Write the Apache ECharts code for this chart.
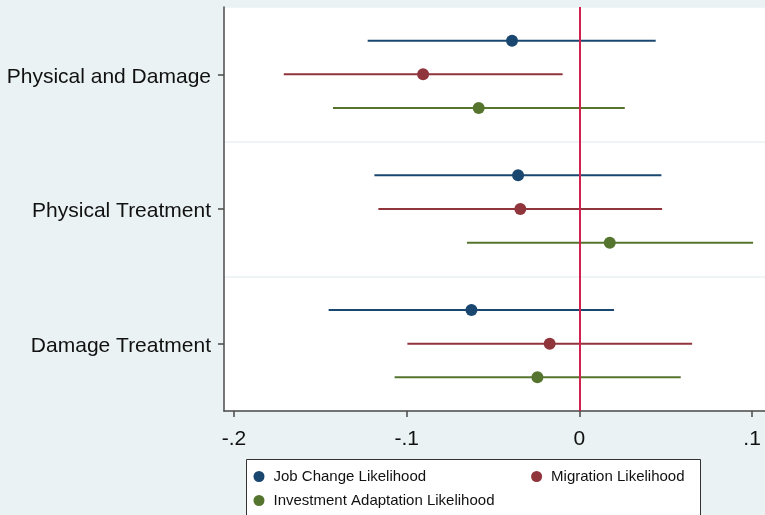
<!DOCTYPE html>
<html>
<head>
<meta charset="utf-8">
<script src="https://cdn.jsdelivr.net/npm/echarts@6/dist/echarts.min.js"></script>
<style>html,body{margin:0;padding:0;background:#eaf2f3;}#c{width:765px;height:515px;}</style>
</head>
<body>
<div id="c"></div>
<script>
var categories = ['Physical and Damage', 'Physical Treatment', 'Damage Treatment'];
var seriesNames = ['Job Change Likelihood', 'Migration Likelihood', 'Investment Adaptation Likelihood'];
var jobEst = [-0.0390, -0.0355, -0.0625];
var jobLo  = [-0.1226, -0.1187, -0.1452];
var jobHi  = [ 0.0442,  0.0475,  0.0201];
var migEst = [-0.0905, -0.0342, -0.0172];
var migLo  = [-0.1712, -0.1164, -0.0996];
var migHi  = [-0.0097,  0.0479,  0.0653];
var invEst = [-0.0583,  0.0176, -0.0243];
var invLo  = [-0.1427, -0.0651, -0.1070];
var invHi  = [ 0.0263,  0.1006,  0.0587];
var xTicks = [-0.2, -0.1, 0, 0.1];
var xTickLabels = ['-.2', '-.1', '0', '.1'];

var colors = ['#1a476f', '#90353b', '#55752f'];
var offsets = [0.25, 0.5, 0.75];
var ests = [jobEst, migEst, invEst];
var los = [jobLo, migLo, invLo];
var his = [jobHi, migHi, invHi];

var series = [];
for (var s = 0; s < 3; s++) {
  var ci = [], pts = [];
  for (var i = 0; i < categories.length; i++) {
    var yy = i + offsets[s];
    ci.push([los[s][i], his[s][i], yy]);
    pts.push([ests[s][i], yy]);
  }
  (function (col) {
    series.push({
      type: 'custom', name: 'ci' + s, xAxisIndex: 0, yAxisIndex: 1, z: 2,
      encode: {x: [0, 1], y: 2},
      renderItem: function (params, api) {
        var p1 = api.coord([api.value(0), api.value(2)]);
        var p2 = api.coord([api.value(1), api.value(2)]);
        return {type: 'line', shape: {x1: p1[0], y1: p1[1], x2: p2[0], y2: p2[1]},
                style: {stroke: col, lineWidth: 2}};
      },
      data: ci, silent: true
    });
  })(colors[s]);
  series.push({
    type: 'scatter', name: seriesNames[s], xAxisIndex: 0, yAxisIndex: 1, z: 4,
    symbol: 'circle', symbolSize: 12, itemStyle: {color: colors[s], opacity: 1},
    data: pts, silent: true
  });
}
series[1].markLine = {
  silent: true, symbol: ['none', 'none'], z: 3,
  label: {show: false},
  lineStyle: {color: '#d0214f', width: 2, type: 'solid'},
  data: [{xAxis: 0}]
};

var chart = echarts.init(document.getElementById('c'), null, {renderer: 'canvas'});
chart.setOption({
  backgroundColor: '#eaf2f3',
  animation: false,
  textStyle: {fontFamily: 'Liberation Sans, Arial, sans-serif'},
  grid: {left: 224, right: 0, top: 7, bottom: 104, show: true, backgroundColor: '#ffffff', borderWidth: 0, containLabel: false},
  xAxis: {
    type: 'value', min: -0.2058, max: 0.1075, position: 'bottom',
    axisLine: {show: true, onZero: false, lineStyle: {color: '#4a4a4a', width: 1.5}},
    axisTick: {show: true, length: 6, customValues: xTicks, lineStyle: {color: '#4a4a4a', width: 1.5}},
    axisLabel: {show: true, customValues: xTicks, margin: 18, color: '#111111', fontSize: 21,
      formatter: function (v) { var k = -1; for (var j = 0; j < xTicks.length; j++) if (Math.abs(xTicks[j]-v) < 1e-9) k = j; return k >= 0 ? xTickLabels[k] : ''; }},
    splitLine: {show: false}
  },
  yAxis: [{
    type: 'category', data: categories, inverse: true, boundaryGap: true, position: 'left',
    axisLine: {show: true, onZero: false, lineStyle: {color: '#4a4a4a', width: 1.5}},
    axisTick: {show: true, alignWithLabel: true, length: 6, lineStyle: {color: '#4a4a4a', width: 1.5}},
    axisLabel: {color: '#111111', fontSize: 21, margin: 13,
      formatter: function (v) { return '{a|' + v + '}'; },
      rich: {a: {fontSize: 21, color: '#111111', padding: [5, 0, 0, 0]}}},
    splitLine: {show: false}
  }, {
    type: 'value', min: 0, max: 3, interval: 1, inverse: true, position: 'left',
    axisLine: {show: false, onZero: false}, axisTick: {show: false}, axisLabel: {show: false},
    splitLine: {show: true, lineStyle: {color: '#eaf2f3', width: 1.5}}
  }],
  legend: [{
    data: [seriesNames[0], seriesNames[1]], left: 253.5, top: 469, orient: 'horizontal',
    itemWidth: 11, itemHeight: 11, itemGap: 105, icon: 'circle', padding: 0,
    textStyle: {fontSize: 15, color: '#111111', padding: [0, 0, 0, 4]},
    selectedMode: false
  }, {
    data: [seriesNames[2]], left: 253.5, top: 493, orient: 'horizontal',
    itemWidth: 11, itemHeight: 11, icon: 'circle', padding: 0,
    textStyle: {fontSize: 15, color: '#111111', padding: [0, 0, 0, 4]},
    selectedMode: false
  }],
  graphic: [{
    type: 'rect', left: 246, top: 459, z: -1, silent: true,
    shape: {width: 454, height: 70},
    style: {fill: '#ffffff', stroke: '#333333', lineWidth: 1}
  }],
  series: series
});
</script>
</body>
</html>
